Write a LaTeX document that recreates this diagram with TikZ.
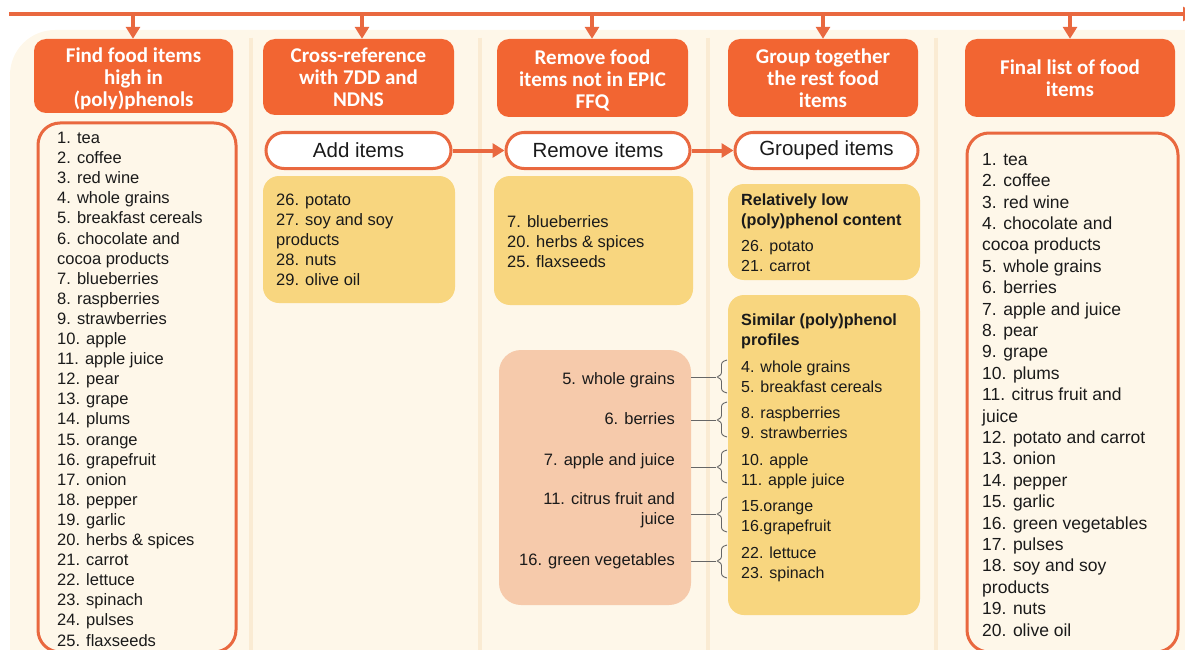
\documentclass[tikz,border=0pt]{standalone}
\usepackage{fontspec}
\setmainfont{Liberation Sans}
\newfontfamily\hdrfont{Carlito}
\usetikzlibrary{arrows.meta}
\definecolor{orH}{HTML}{F26532}
\definecolor{bdr}{HTML}{E9683F}
\definecolor{yel}{HTML}{F8D67F}
\definecolor{sal}{HTML}{F6CAAB}
\definecolor{cream}{HTML}{FEF7E9}
\definecolor{sepc}{HTML}{FAEBD3}
\definecolor{txtc}{HTML}{1A1A1A}
\definecolor{brkc}{HTML}{666666}
\begin{document}
\begin{tikzpicture}[x=1pt,y=-1pt,
  hdr/.style={fill=orH, rounded corners=12pt, text=white, font=\hdrfont\bfseries\fontsize{21}{22}\selectfont, align=center, inner sep=0pt},
  hdrtxt/.style={text=white, font=\hdrfont\bfseries\fontsize{21}{22}\selectfont, align=center, inner sep=0pt},
  pill/.style={draw=bdr, line width=3pt, fill=white, rounded corners=18pt, minimum height=36pt, font=\fontsize{20.5}{24}\selectfont, inner sep=0pt, text=txtc},
  lbox/.style={draw=bdr, line width=3pt, fill=cream, rounded corners=22pt, inner sep=0pt},
  ybox/.style={fill=yel, rounded corners=16pt, inner sep=0pt},
  sbox/.style={fill=sal, rounded corners=22pt, inner sep=0pt},
  txt/.style={anchor=north west, inner sep=0pt, align=left, text=txtc},
  arr/.style={draw=bdr, line width=4pt, -{Triangle[width=14pt,length=12pt]}},
  darr/.style={draw=bdr, line width=3.5pt, -{Triangle[width=14pt,length=12pt]}},
  brk/.style={draw=brkc, line width=0.9pt, rounded corners=2.5pt},
  sepl/.style={draw=sepc, line width=4pt}
]
\useasboundingbox (0,0) rectangle (1185,650);
% background
\fill[cream, rounded corners=45pt] (10,30) rectangle (1240,720);
\foreach \x in {251,480,708,936} \draw[sepl] (\x,38) -- (\x,650);

% top line and drops
\coordinate (tl) at (9,14);
\coordinate (tr) at (1195,14);
\draw[arr] (tl) -- (tr);

% headers
\node[hdr, minimum width=199pt, minimum height=74pt] (h1) at (133.5,76) {};
\node[hdrtxt] (h1t) at (133.5,79) {Find food items\\high in\\(poly)phenols};
\node[hdr, minimum width=191pt, minimum height=76pt] (h2) at (358.5,77) {Cross-reference\\with 7DD and\\NDNS};
\node[hdr, minimum width=191pt, minimum height=78pt] (h3) at (592.5,78) {};
\node[hdrtxt] (h3t) at (592.5,80) {Remove food\\items not in EPIC\\FFQ};
\node[hdr, minimum width=190pt, minimum height=78pt] (h4) at (823,78) {Group together\\the rest food\\items};
\node[hdr, minimum width=210pt, minimum height=78pt] (h5) at (1070,78) {Final list of food\\items};

\foreach \n/\x in {1/133,2/362,3/592,4/823,5/1070} {
  \coordinate (d\n) at (\x,14);
  \draw[darr] (d\n) -- (d\n |- h\n.north);
}

% column 1
\node[lbox, minimum width=198pt, minimum height=529pt] (l1) at (137,387.5) {};
\node[txt, font=\fontsize{16.5}{20.1}\selectfont] (l1t) at (57,132) {1. tea\\2. coffee\\3. red wine\\4. whole grains\\5. breakfast cereals\\6. chocolate and\\cocoa products\\7. blueberries\\8. raspberries\\9. strawberries\\10. apple\\11. apple juice\\12. pear\\13. grape\\14. plums\\15. orange\\16. grapefruit\\17. onion\\18. pepper\\19. garlic\\20. herbs \& spices\\21. carrot\\22. lettuce\\23. spinach\\24. pulses\\25. flaxseeds};

% pills
\node[pill, minimum width=185pt] (add) at (358.5,150.5) {Add items};
\node[pill, minimum width=184pt] (rem) at (598,150.5) {Remove items};
\node[pill, minimum width=183pt] (grp) at (826.5,150.5) {Grouped items};
\draw[arr] (add.east) -- (rem.west);
\draw[arr] (rem.east) -- (grp.west);

% column 2
\node[ybox, minimum width=192pt, minimum height=127pt] (y2) at (359,239.5) {};
\node[txt, font=\fontsize{16.5}{20}\selectfont] (y2t) at (276,194) {26. potato\\27. soy and soy\\products\\28. nuts\\29. olive oil};

% column 3
\node[ybox, minimum width=199pt, minimum height=129pt] (y3) at (593.5,240.5) {};
\node[txt, font=\fontsize{16.5}{20}\selectfont] (y3t) at (507,215) {7. blueberries\\20. herbs \& spices\\25. flaxseeds};
\node[sbox, minimum width=192pt, minimum height=255pt] (sb) at (595,477.5) {};
\begin{scope}[every node/.style={anchor=north east, inner sep=0pt, align=right, text=txtc, font=\fontsize{16.5}{20.5}\selectfont}]
\node (s1) at (675,372) {5. whole grains};
\node (s2) at (675,412) {6. berries};
\node (s3) at (675,453) {7. apple and juice};
\node (s4) at (675,492) {11. citrus fruit and\\juice};
\node (s5) at (675,553) {16. green vegetables};
\end{scope}

% column 4
\node[ybox, minimum width=192pt, minimum height=96pt] (y4a) at (824,232) {};
\node[txt, font=\bfseries\fontsize{16.2}{20}\selectfont] (y4at) at (741,194) {Relatively low\\(poly)phenol content};
\node[txt, font=\fontsize{16}{20.5}\selectfont] (y4ai) at (741,240) {26. potato\\21. carrot};
\node[ybox, minimum width=192pt, minimum height=320pt] (y4b) at (824,455) {};
\node[txt, font=\bfseries\fontsize{16.2}{20}\selectfont] (y4bt) at (741,314) {Similar (poly)phenol\\profiles};
\begin{scope}[every node/.style={txt, font=\fontsize{16}{20}\selectfont}]
\node (p1) at (741,361) {4. whole grains\\5. breakfast cereals};
\node (p2) at (741,407) {8. raspberries\\9. strawberries};
\node (p3) at (741,454) {10. apple\\11. apple juice};
\node (p4) at (741,500) {15.orange\\16.grapefruit};
\node (p5) at (741,547) {22. lettuce\\23. spinach};
\end{scope}

% brackets
\foreach \i/\a/\b/\m in {1/360/393/377, 2/402/437/420, 3/450/483/467, 4/497/532/514, 5/545/578/561} {
  \coordinate (tip\i) at (716,\m);
  \draw[brk] (sb.east |- tip\i) -- (tip\i);
  \draw[brk] (727,\a) -- (721.5,\a+2) -- (721.5,\m-2) -- (tip\i) -- (721.5,\m+2) -- (721.5,\b-2) -- (727,\b);
}

% column 5
\node[lbox, minimum width=211pt, minimum height=519pt] (l5) at (1072.5,392.5) {};
\node[txt, font=\fontsize{17.5}{21.4}\selectfont] (l5t) at (982,153) {1. tea\\2. coffee\\3. red wine\\4. chocolate and\\cocoa products\\5. whole grains\\6. berries\\7. apple and juice\\8. pear\\9. grape\\10. plums\\11. citrus fruit and\\juice\\12. potato and carrot\\13. onion\\14. pepper\\15. garlic\\16. green vegetables\\17. pulses\\18. soy and soy\\products\\19. nuts\\20. olive oil};
\end{tikzpicture}
\end{document}
